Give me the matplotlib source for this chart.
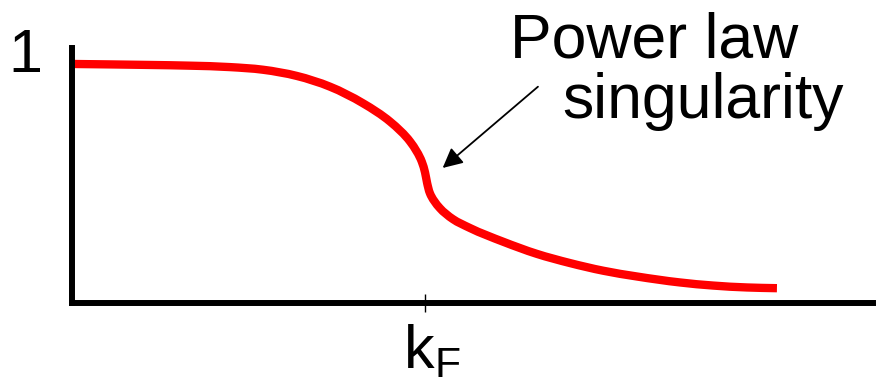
import numpy as np
import matplotlib.pyplot as plt
from matplotlib.path import Path
from matplotlib.patches import PathPatch

# k in units of k_F, occupation normalised to 1
k = [0.008, 0.221, 0.334, 0.448, 0.541, 0.637, 0.731, 0.824, 0.901, 0.958,
     0.991, 1.0, 1.006, 1.014, 1.042, 1.079, 1.127, 1.222, 1.316, 1.411,
     1.505, 1.600, 1.722, 1.816, 1.912, 1.997]
n_k = [1.0, 0.996, 0.993, 0.987, 0.976, 0.950, 0.905, 0.836, 0.759, 0.675,
       0.591, 0.547, 0.502, 0.459, 0.397, 0.351, 0.314, 0.256, 0.206, 0.167,
       0.135, 0.111, 0.086, 0.073, 0.065, 0.062]
kF = 1.0

plt.rcParams['font.family'] = ['Liberation Sans', 'DejaVu Sans']
plt.rcParams['mathtext.fontset'] = 'custom'
plt.rcParams['mathtext.rm'] = 'Liberation Sans'


def smooth_path(xs, ys, sx=353, sy=239):
    # hermite curve through the points (chord length tangents), as bezier segments
    p = np.column_stack([xs, ys]) * [sx, sy]
    t = np.concatenate([[0], np.cumsum(np.hypot(*np.diff(p, axis=0).T))])
    m = np.gradient(p, t, axis=0)
    verts = [p[0]]
    codes = [Path.MOVETO]
    for i in range(len(p) - 1):
        h = t[i + 1] - t[i]
        verts += [p[i] + m[i] * h / 3, p[i + 1] - m[i + 1] * h / 3, p[i + 1]]
        codes += [Path.CURVE4] * 3
    return Path(np.array(verts) / [sx, sy], codes)


fig = plt.figure(figsize=(8.8, 3.81), dpi=100)
ax = fig.add_axes([72/880, 78/381, 801/880, 255/381])
ax.add_patch(PathPatch(smooth_path(k, n_k), fill=False, edgecolor='red', lw=6,
                       capstyle='butt', joinstyle='round'))
ax.set_xlim(0, 801/353)
ax.set_ylim(0, 255/239)

for s in ['top', 'right']:
    ax.spines[s].set_visible(False)
for s in ['left', 'bottom']:
    ax.spines[s].set_linewidth(4.3)

ax.set_yticks([])
ax.set_xticks([kF])
ax.set_xticklabels([])
ax.tick_params(axis='x', direction='inout', length=13, width=1, color='black')

ax.text(-0.133, 1.03, '1', fontsize=44, ha='center', va='center')
ax.text(kF + 0.02, -0.085, r'k$_\mathregular{F}$', fontsize=44, ha='center', va='top')

ax.text(1.24, 1.029, 'Power law', fontsize=45, ha='left', va='baseline')
ax.text(1.39, 0.775, 'singularity', fontsize=45, ha='left', va='baseline')
ax.annotate('', xy=(1.05, 0.565), xytext=(1.32, 0.905),
            arrowprops=dict(arrowstyle='-|>', color='black', lw=1.3,
                            mutation_scale=30, shrinkA=0, shrinkB=0))

fig.savefig('out.png', dpi=100)
